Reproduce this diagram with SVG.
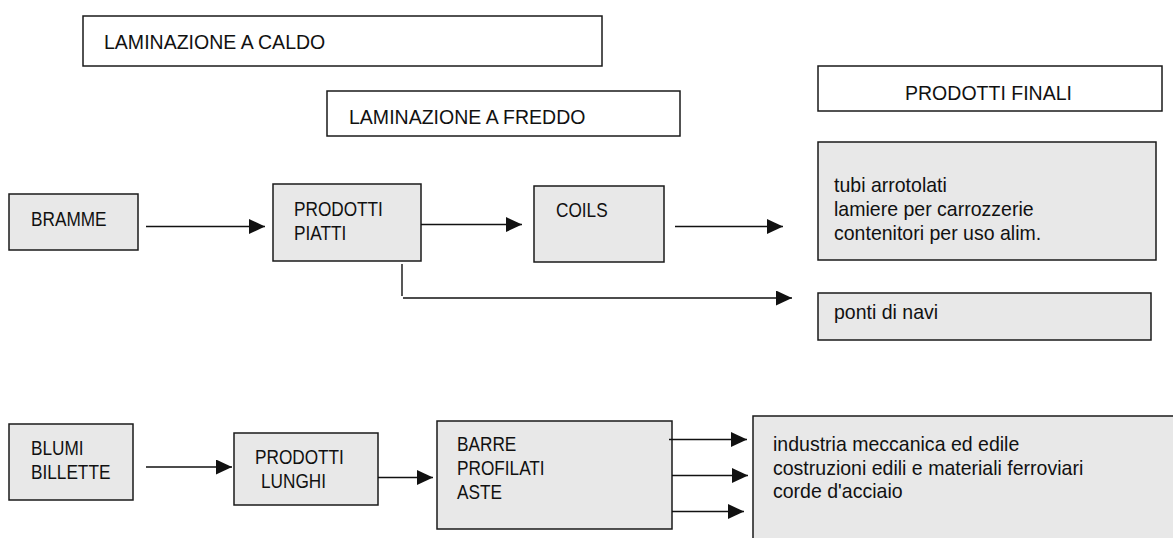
<svg xmlns="http://www.w3.org/2000/svg" width="1173" height="538" viewBox="0 0 1173 538">
<style>
.hdr{fill:#ffffff;stroke:#1a1a1a;stroke-width:1.5}
.nd{fill:#e8e8e8;stroke:#1a1a1a;stroke-width:1.5}
.t{font-family:"Liberation Sans",Arial,sans-serif;font-size:21px;fill:#111}
.n{font-family:"Liberation Sans",Arial,sans-serif;font-size:21px;fill:#111}
.c{fill:none;stroke:#111;stroke-width:1.4}
</style>
<defs>
<marker id="ah" markerUnits="userSpaceOnUse" markerWidth="16" markerHeight="16" refX="16" refY="7.5" orient="auto">
<path d="M0,0 L16,7.5 L0,15 z" fill="#111"/>
</marker>
</defs>
<g id="laminazione-caldo"><rect class="hdr" x="83" y="16" width="519" height="50"/><text class="t" transform="translate(104 49) scale(0.93 1)">LAMINAZIONE A CALDO</text></g>
<g id="laminazione-freddo"><rect class="hdr" x="327" y="91" width="353" height="45"/><text class="t" transform="translate(349 124) scale(0.93 1)">LAMINAZIONE A  FREDDO</text></g>
<g id="prodotti-finali"><rect class="hdr" x="818" y="66" width="344" height="45"/><text class="t" transform="translate(905 100) scale(0.93 1)">PRODOTTI FINALI</text></g>
<g id="tubi"><rect class="nd" x="818" y="142" width="338" height="118"/><text class="t" transform="translate(834 192) scale(0.93 1)">tubi arrotolati</text><text class="t" transform="translate(834 216) scale(0.93 1)">lamiere per carrozzerie</text><text class="t" transform="translate(834 240) scale(0.93 1)">contenitori per uso alim.</text></g>
<g id="ponti"><rect class="nd" x="818" y="293" width="333" height="47"/><text class="t" transform="translate(834 319) scale(0.93 1)">ponti di navi</text></g>
<g id="bramme"><rect class="nd" x="9" y="194" width="129" height="56"/><text class="n" transform="translate(31 226) scale(0.82 1)">BRAMME</text></g>
<g id="prodotti-piatti"><rect class="nd" x="273" y="184" width="148" height="77"/><text class="n" transform="translate(294 216) scale(0.82 1)">PRODOTTI</text><text class="n" transform="translate(294 240) scale(0.82 1)">PIATTI</text></g>
<g id="coils"><rect class="nd" x="534" y="186" width="130" height="76"/><text class="n" transform="translate(556 217) scale(0.82 1)">COILS</text></g>
<g id="blumi"><rect class="nd" x="9" y="424" width="124" height="76"/><text class="n" transform="translate(31 455) scale(0.82 1)">BLUMI</text><text class="n" transform="translate(31 479) scale(0.82 1)">BILLETTE</text></g>
<g id="prodotti-lunghi"><rect class="nd" x="234" y="433" width="144" height="72"/><text class="n" transform="translate(255 464) scale(0.82 1)">PRODOTTI</text><text class="n" transform="translate(261 488) scale(0.82 1)">LUNGHI</text></g>
<g id="barre"><rect class="nd" x="437" y="421" width="235" height="108"/><text class="n" transform="translate(457 451) scale(0.82 1)">BARRE</text><text class="n" transform="translate(457 475) scale(0.82 1)">PROFILATI</text><text class="n" transform="translate(457 499) scale(0.82 1)">ASTE</text></g>
<g id="industria"><rect class="nd" x="753" y="416" width="430" height="140"/><text class="t" transform="translate(773 451) scale(0.93 1)">industria meccanica ed edile</text><text class="t" transform="translate(773 475) scale(0.93 1)">costruzioni edili e materiali ferroviari</text><text class="t" transform="translate(773 498) scale(0.93 1)">corde d'acciaio</text></g>
<g id="connectors">
<line class="c" x1="146" y1="226.5" x2="265" y2="226.5" marker-end="url(#ah)"/>
<line class="c" x1="421" y1="224.5" x2="522" y2="224.5" marker-end="url(#ah)"/>
<line class="c" x1="675" y1="226.5" x2="783" y2="226.5" marker-end="url(#ah)"/>
<line class="c" x1="402" y1="264" x2="402" y2="296"/>
<line class="c" x1="403" y1="298" x2="792" y2="298" marker-end="url(#ah)"/>
<line class="c" x1="146" y1="467" x2="232" y2="467" marker-end="url(#ah)"/>
<line class="c" x1="378" y1="477.5" x2="433" y2="477.5" marker-end="url(#ah)"/>
<line class="c" x1="669" y1="439.5" x2="747" y2="439.5" marker-end="url(#ah)"/>
<line class="c" x1="672" y1="475.5" x2="748" y2="475.5" marker-end="url(#ah)"/>
<line class="c" x1="672" y1="511.5" x2="744" y2="511.5" marker-end="url(#ah)"/>
</g>
</svg>
